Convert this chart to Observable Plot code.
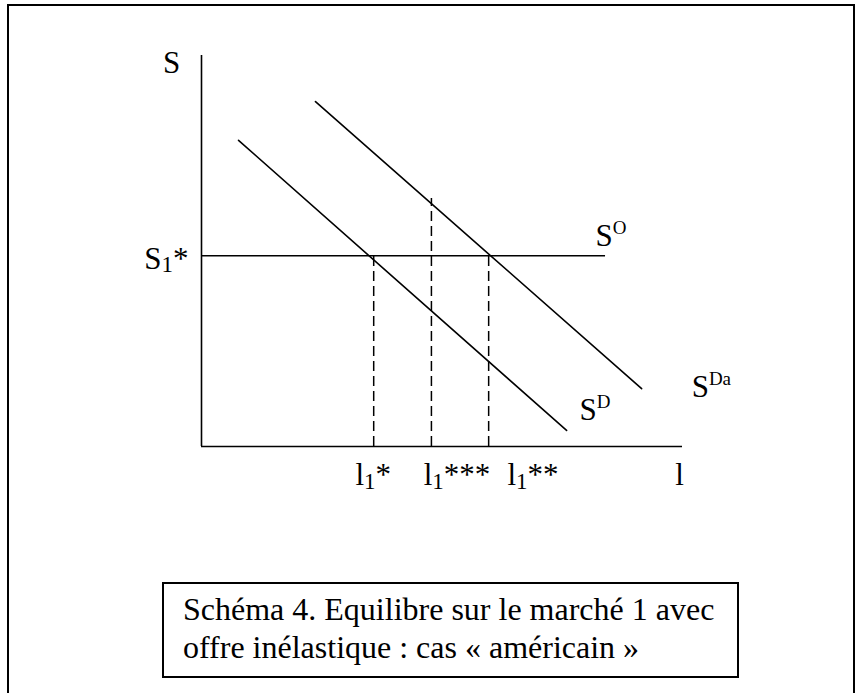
<!DOCTYPE html>
<html>
<head>
<meta charset="utf-8">
<script src="https://cdn.jsdelivr.net/npm/d3@7"></script>
<script src="https://cdn.jsdelivr.net/npm/@observablehq/plot@0.6"></script>
<style>
  html, body { margin: 0; padding: 0; background: #fff; }
  #page { position: relative; width: 860px; height: 693px; overflow: hidden; }
  #frame { position: absolute; left: 7px; top: 4px; width: 848px; height: 800px;
           border-top: 2.5px solid #000; border-left: 2.5px solid #000; border-right: 2px solid #000;
           box-sizing: border-box; }
  #chart { position: absolute; left: 0; top: 0; }
  #caption { position: absolute; left: 162px; top: 582px; width: 577px; height: 96px;
             border: 2px solid #000; background: #fff;
             font-family: "Liberation Serif", "Times New Roman", serif; font-size: 32px;
             line-height: 38px; padding: 6px 0 0 19px; box-sizing: border-box; color: #000; }
</style>
</head>
<body>
<div id="page">
  <div id="frame"></div>
  <div id="chart"></div>
  <div id="caption"></div>
</div>
<script>
// ---- data (abstract units 0..10 on both axes) ----
const demandD  = [[0.77, 7.83], [7.59, 0.41]];      // S^D
const demandDa = [[2.37, 8.82], [9.15, 1.48]];      // S^Da
const supplyLevel = 4.88;                           // S1*
const supplyEnd = 8.40;                             // end of S^O line
const dropX   = [3.58, 4.78, 5.97];                 // l1*, l1***, l1**
const dropTop = [4.88, 6.34, 4.88];
const xLabels   = ["l_{1}*", "l_{1}***", "l_{1}**", "l"];
const xLabelPos = [3.20, 4.62, 6.36, 9.85];
const curveLabels = ["S^{O}", "S^{D}", "S^{Da}"];
const curveLabelX = [8.19, 7.86, 10.19];
const curveLabelY = [5.37, 0.92, 1.51];
const yAxisLabel = "S";
const yTickLabel = "S_{1}*";
const captionLines = ["Schéma 4. Equilibre sur le marché 1 avec", "offre inélastique : cas « américain »"];

// ---- derived tables ----
const toPts = (a) => a.map(([x, y]) => ({x, y}));
const drops = dropX.map((x, i) => ({x, top: dropTop[i]}));
const xLab = xLabels.map((t, i) => ({t, x: xLabelPos[i]}));
const cLab = curveLabels.map((t, i) => ({t, x: curveLabelX[i], y: curveLabelY[i]}));

const font = "Liberation Serif";
const fs = 31;

const plot = Plot.plot({
  width: 860,
  height: 693,
  marginLeft: 201,
  marginRight: 178,
  marginTop: 55,
  marginBottom: 247,
  x: {domain: [0, 10], axis: null},
  y: {domain: [0, 10], axis: null},
  style: {background: "transparent", overflow: "visible"},
  marks: [
    Plot.ruleX([0], {y1: 0, y2: 10, stroke: "#000", strokeWidth: 1.6}),
    Plot.ruleY([0], {x1: 0, x2: 10, stroke: "#000", strokeWidth: 1.6}),
    Plot.ruleY([supplyLevel], {x1: 0, x2: supplyEnd, stroke: "#000", strokeWidth: 1.6}),
    Plot.ruleX(drops, {x: "x", y1: 0, y2: "top", stroke: "#000", strokeWidth: 1.5, strokeDasharray: "10,5"}),
    Plot.line(toPts(demandD), {x: "x", y: "y", stroke: "#000", strokeWidth: 1.6}),
    Plot.line(toPts(demandDa), {x: "x", y: "y", stroke: "#000", strokeWidth: 1.6}),
    Plot.text(xLab, {x: "x", y: 0, text: "t", textAnchor: "start", dy: 29, fontFamily: font, fontSize: fs, fill: "#000"}),
    Plot.text(cLab, {x: "x", y: "y", text: "t", textAnchor: "start", fontFamily: font, fontSize: fs, fill: "#000"}),
    Plot.text([yAxisLabel], {x: 0, y: 10, text: (d) => d, textAnchor: "middle", dx: -30, dy: 8, fontFamily: font, fontSize: fs, fill: "#000"}),
    Plot.text([yTickLabel], {x: 0, y: supplyLevel, text: (d) => d, textAnchor: "end", dx: -13, dy: 3, fontFamily: font, fontSize: fs, fill: "#000"})
  ]
});
document.getElementById("chart").appendChild(plot);

// ---- turn ^{..} and _{..} markup into real super/subscripts ----
const NS = "http://www.w3.org/2000/svg";
const re = /(\^|_)\{([^}]*)\}/g;
plot.querySelectorAll("text").forEach((el) => {
  const s = el.textContent;
  if (!/[\^_]\{/.test(s)) return;
  const parts = [];
  let last = 0, m;
  re.lastIndex = 0;
  while ((m = re.exec(s))) {
    if (m.index > last) parts.push({t: s.slice(last, m.index)});
    parts.push({t: m[2], k: m[1]});
    last = re.lastIndex;
  }
  if (last < s.length) parts.push({t: s.slice(last)});
  const size = parseFloat(getComputedStyle(el).fontSize) || fs;
  el.textContent = "";
  let offset = 0;
  for (const p of parts) {
    const ts = document.createElementNS(NS, "tspan");
    const target = p.k === "^" ? -0.4 * size : p.k === "_" ? 0.12 * size : 0;
    if (target !== offset) ts.setAttribute("dy", target - offset);
    offset = target;
    if (p.k === "^") ts.setAttribute("font-size", Math.round(size * 0.62));
    if (p.k === "_") ts.setAttribute("font-size", Math.round(size * 0.75));
    ts.textContent = p.t;
    el.appendChild(ts);
  }
});

// ---- caption ----
const cap = document.getElementById("caption");
captionLines.forEach((line) => {
  const d = document.createElement("div");
  d.textContent = line;
  d.style.whiteSpace = "nowrap";
  cap.appendChild(d);
});
</script>
</body>
</html>
